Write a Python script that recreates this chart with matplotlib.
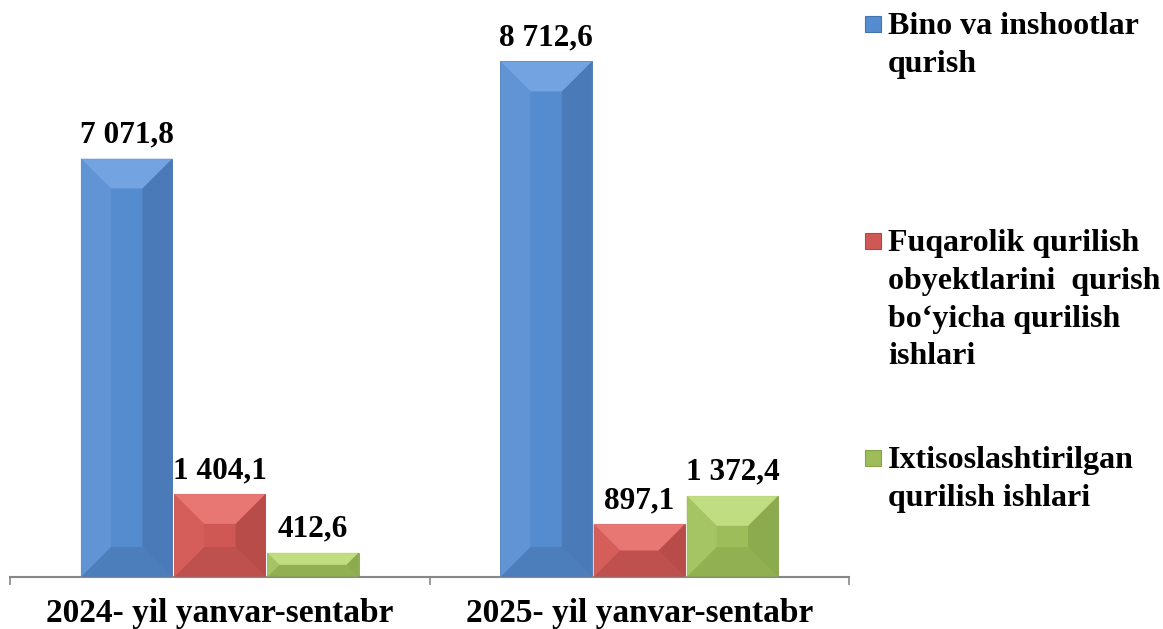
import matplotlib
matplotlib.use("Agg")
import matplotlib.pyplot as plt
from matplotlib.patches import Polygon, Rectangle
import numpy as np

plt.rcParams['font.family'] = ['Liberation Serif', 'DejaVu Serif']
plt.rcParams['font.weight'] = 'bold'

# данные
periods = ["2024- yil yanvar-sentabr", "2025- yil yanvar-sentabr"]
series_names = ["Bino va inshootlar\nqurish",
                "Fuqarolik qurilish\nobyektlarini  qurish\nbo\u2018yicha qurilish\nishlari",
                "Ixtisoslashtirilgan\nqurilish ishlari"]
bino = [7071.8, 8712.6]
fuqarolik = [1404.1, 897.1]
ixtisos = [412.6, 1372.4]

# цвета: основной, верх, лево, право, низ
palette = [
    ("#558BCF", "#80AEE8", "#6598D8", "#4673AE", "#4A79B5"),
    ("#CF5855", "#F3837F", "#D8615D", "#AF4744", "#B84E4B"),
    ("#9CBD5A", "#D2EC93", "#A9C969", "#86A34A", "#8CAB4F"),
]

W, H, DPI = 1163, 629, 100
fig = plt.figure(figsize=(W / DPI, H / DPI), dpi=DPI)
ax = fig.add_axes([10 / W, 1 - 577 / H, 839 / W, 574 / H])
ax.set_xlim(-0.5, 1.5)
ax.set_ylim(0, 9700)

def fmt(v):
    s = "{:,.1f}".format(v)
    return s.replace(",", " ").replace(".", ",")

x = np.arange(len(periods))
width = 0.218
offsets = [-0.222, 0.0, 0.222]
all_series = [bino, fuqarolik, ixtisos]

bar_sets = []
for vals, off, cols in zip(all_series, offsets, palette):
    bars = ax.bar(x + off, vals, width, color=cols[0], edgecolor=cols[3],
                  linewidth=0.6, zorder=2)
    bar_sets.append((bars, cols))
    for xi, v in zip(x + off, vals):
        ax.annotate(fmt(v), (xi, v), xytext=(0, 11.5), textcoords='offset points',
                    ha='center', va='baseline', fontsize=22.5, fontweight='bold')

# фаска (bevel) у столбцов
inv = ax.transData.inverted()
for bars, cols in bar_sets:
    for p in bars:
        (px0, py0), (px1, py1) = ax.transData.transform(
            [(p.get_x(), 0), (p.get_x() + p.get_width(), p.get_height())])
        b = min(30, (px1 - px0) / 2, (py1 - py0) / 2)
        outer = [(px0, py0), (px1, py0), (px1, py1), (px0, py1)]
        inner = [(px0 + b, py0 + b), (px1 - b, py0 + b), (px1 - b, py1 - b), (px0 + b, py1 - b)]
        sides = [(0, 1, cols[4]), (1, 2, cols[3]), (2, 3, cols[1]), (3, 0, cols[2])]
        for i, j, c in sides:
            pts = inv.transform([outer[i], outer[j], inner[j], inner[i]])
            ax.add_patch(Polygon(pts, closed=True, facecolor=c, edgecolor='none',
                                 alpha=0.7, zorder=3))

for s in ['top', 'right', 'left']:
    ax.spines[s].set_visible(False)
ax.spines['bottom'].set_color('#878787')
ax.spines['bottom'].set_linewidth(1.5)
ax.set_yticks([])
ax.set_xticks(x)
ax.set_xticklabels(periods, fontsize=24, fontweight='bold')
ax.tick_params(axis='x', which='major', length=0, pad=15)
ax.set_xticks([-0.5, 0.5, 1.5], minor=True)
ax.tick_params(axis='x', which='minor', length=6, width=1.2, color='#878787')

# легенда справа
legend_tops = [12, 229, 446]
for name, cols, yt in zip(series_names, palette, legend_tops):
    fig.text(888 / W, 1 - yt / H, name, ha='left', va='top',
             fontsize=23, fontweight='bold', linespacing=1.4)
    fig.add_artist(Rectangle((865 / W, 1 - (yt + 20) / H), 16 / W, 16 / H,
                             transform=fig.transFigure, facecolor=cols[0],
                             edgecolor=cols[3], linewidth=0.8))

fig.savefig("out.png", dpi=DPI)
